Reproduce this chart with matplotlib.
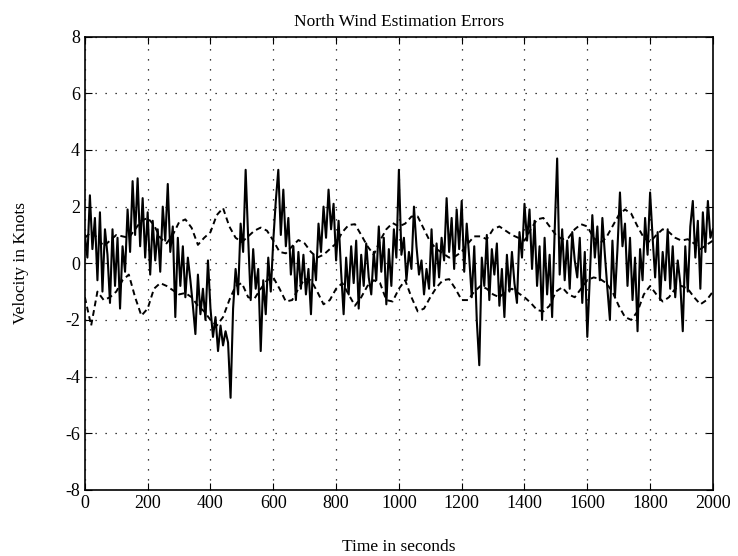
import numpy as np
import matplotlib
matplotlib.use("Agg")
import matplotlib.pyplot as plt

plt.rcParams["font.family"] = ["Liberation Serif", "DejaVu Serif"]
plt.rcParams["axes.unicode_minus"] = False

t_err = np.arange(0, 2001, 8)
err = [
    1.0, 0.2, 2.4, 0.5, 1.6, -0.6, 1.8, -1.0, 1.2, 0.3,
    -1.4, 1.2, -0.8, 0.9, -1.6, 0.6, -0.3, 1.9, 0.4, 2.9,
    1.0, 3.0, 0.6, 2.3, 0.2, 1.8, -0.4, 1.5, 0.1, 1.2,
    -0.3, 2.0, 0.8, 2.8, 0.4, 1.3, -1.9, 0.9, -0.8, 0.6,
    -1.2, 0.2, -0.6, -1.5, -2.5, -0.4, -1.8, -0.9, -2.0, 0.1,
    -1.6, -2.6, -1.9, -3.1, -2.2, -2.9, -2.4, -2.8, -4.75, -1.6,
    -0.2, -1.1, 1.4, 0.4, 3.3, 0.9, -1.3, 0.5, -0.9, -0.2,
    -3.1, -0.6, -1.8, 0.2, -1.0, 0.8, 2.2, 3.3, 1.0, 2.6,
    0.6, 1.6, -0.4, 0.6, -1.3, 0.4, -0.9, 0.3, -1.1, -0.2,
    -1.8, 0.3, -0.6, 1.4, 0.4, 2.0, 0.9, 2.6, 1.2, 2.1,
    0.1, 1.5, -0.3, -1.8, 0.2, -1.1, 0.6, -0.7, 0.8, -1.6,
    0.3, -0.8, 0.7, -0.5, -1.1, 0.4, -0.6, 1.3, -0.3, 0.9,
    -1.45, 0.5, -0.8, 1.2, 0.2, 3.3, 0.3, 0.9, -0.6, 0.4,
    -0.2, 2.0, 0.6, -0.4, 0.1, -1.1, -0.2, -0.9, 1.2, -0.8,
    0.7, -0.5, 0.9, 0.1, 2.3, 0.4, 1.6, -0.2, 1.9, 0.5,
    2.2, -0.3, 1.4, 0.2, -1.2, 0.6, -2.0, -3.6, 0.2, -0.8,
    1.0, -1.3, 0.5, -0.4, 0.7, -1.5, -0.2, -1.9, 0.3, -1.0,
    0.4, -0.7, -1.4, 1.1, 0.2, 2.1, 0.8, 1.9, -0.2, 1.5,
    -0.8, 0.6, -2.0, 0.9, -1.1, 0.3, -1.9, 1.1, 3.7, -0.4,
    1.2, -0.6, 0.8, -0.9, 1.1, 0.1, -0.5, 0.9, -1.4, 0.4,
    -2.6, -0.5, 1.7, 0.2, 1.3, -0.6, 1.6, 0.3, -0.9, -2.0,
    0.8, -1.2, 0.5, 2.5, 0.6, 1.4, -0.8, 0.9, -1.3, 0.2,
    -2.4, 0.5, -0.6, 1.6, 0.3, 2.5, 0.9, -0.5, 1.1, -1.3,
    0.4, -0.6, 1.2, -0.9, 0.6, -1.2, 0.1, -0.7, -2.4, 0.6,
    -1.0, 1.3, 2.2, 0.2, 1.5, -0.9, 1.8, 0.4, 2.2, 0.9,
    1.2,
]

# dashed bounds, sampled every 20 s
t_bound = np.arange(0, 2001, 20)
upper = [
    0.9, 1.1, 0.9, 0.6, 0.8, 1.0, 0.95, 0.9, 1.2, 1.5,
    1.6, 1.35, 0.9, 0.7, 1.0, 1.45, 1.55, 1.25, 0.65, 0.9,
    1.1, 1.7, 1.95, 1.3, 0.9, 0.75, 0.95, 1.15, 1.26, 1.15,
    0.8, 0.4, 0.35, 0.6, 0.82, 0.7, 0.4, 0.2, 0.3, 0.5,
    0.7, 1.1, 1.35, 1.38, 1.0, 0.6, 0.3, 0.8, 1.2, 1.42,
    1.3, 1.4, 1.65, 1.65, 1.2, 0.75, 0.5, 0.35, 0.2, 0.25,
    0.4, 0.7, 0.95, 0.95, 0.85, 1.2, 1.3, 1.15, 1.0, 0.9,
    0.8, 1.2, 1.55, 1.6, 1.3, 1.0, 0.85, 0.9, 1.2, 1.38,
    1.3, 0.9, 0.7, 0.9, 1.3, 1.7, 1.9, 1.75, 1.3, 0.9,
    0.75, 1.0, 1.2, 1.1, 0.9, 0.8, 0.85, 0.7, 0.5, 0.65,
    0.8,
]
lower = [
    -1.2, -2.2, -1.0, -1.3, -1.2, -1.0, -0.6, -0.4, -1.2, -1.85,
    -1.6, -0.9, -0.7, -0.8, -0.95, -1.1, -1.05, -1.2, -1.5, -1.7,
    -2.0, -2.2, -1.9, -1.3, -0.8, -0.7, -1.2, -1.25, -0.9, -0.6,
    -0.5, -0.9, -1.35, -1.3, -0.9, -0.55, -0.6, -1.0, -1.45, -1.3,
    -0.9, -0.7, -1.1, -1.5, -1.2, -0.8, -0.6, -0.7, -1.3, -1.35,
    -0.9, -0.6, -1.2, -1.7, -1.6, -1.2, -0.85, -0.6, -0.56, -0.9,
    -1.3, -1.3, -1.0, -0.8, -0.9, -1.1, -1.2, -1.0, -0.9, -1.05,
    -1.2, -1.4, -1.65, -1.7, -1.5, -1.0, -0.85, -1.1, -1.2, -0.9,
    -0.6, -0.5, -0.55, -0.7, -1.0, -1.5, -1.9, -2.0, -1.7, -1.1,
    -0.8, -1.1, -1.35, -1.2, -0.9, -0.8, -0.9, -1.2, -1.45, -1.3,
    -1.0,
]

fig = plt.figure(figsize=(7.38, 5.56), dpi=100)
ax = fig.add_axes([0.115, 0.119, 0.851, 0.815])

ax.plot(t_err, err, color="black", lw=1.5)
ax.plot(t_bound, upper, color="black", lw=1.4, linestyle=(0, (3, 2)))
ax.plot(t_bound, lower, color="black", lw=1.4, linestyle=(0, (3, 2)))

ax.set_xlim(0, 2000)
ax.set_ylim(-8, 8)
ax.set_xticks(np.arange(0, 2001, 200))
ax.set_yticks(np.arange(-8, 9, 2))
ax.grid(True, color="black", linestyle=(0, (1, 7)), lw=0.9)
ax.tick_params(direction="in", top=True, right=True, labelsize=13, length=5)
for s in ax.spines.values():
    s.set_linewidth(1.2)

ax.set_title("North Wind Estimation Errors", fontsize=12.5, pad=8)
ax.set_xlabel("Time in seconds", fontsize=12.5, labelpad=20)
ax.set_ylabel("Velocity in Knots", fontsize=12.5, labelpad=26)

fig.savefig("out.png", dpi=100)
